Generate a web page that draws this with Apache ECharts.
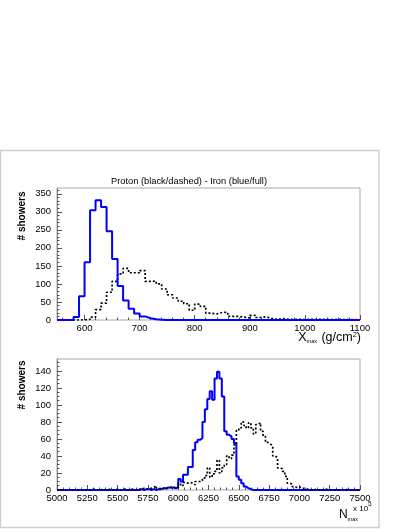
<!DOCTYPE html>
<html><head><meta charset="utf-8">
<script src="https://cdn.jsdelivr.net/npm/echarts@6/dist/echarts.min.js"></script>
<style>html,body{margin:0;padding:0;background:#fff;}#c{width:409px;height:529px;}</style>
</head><body><div id="c"></div>
<script>
// ---------- data ----------
const chartTitle = 'Proton (black/dashed) - Iron (blue/full)';
// Xmax histogram: bins of 10 g/cm2 starting at 550
const xmaxStart = 550, xmaxBinWidth = 10;
const xmaxIron = [0,0,0,8,66,160,304,332,313,246,169,94,54,31,18,10,5,2,1,
  0,0,0,0,0,0,0,0,0,0,0,0,0,0,0,0,0,0,0,0,0,0,0,0,0,0,0,0,0,0,0,0,0,0,0,0];
const xmaxProton = [0,0,0,0,0,2,8,29,47,77,107,128,143,131,131,137,107,108,100,86,
  70,61,52,45,27,44,38,19,17,21,21,10,10,8,6,13,7,9,4,2,3,2,1,2,1,2,1,2,1,1,2,1,1,1,0];
const xmaxTickLabels = [600,700,800,900,1000,1100];
const xmaxCountTicks = [0,50,100,150,200,250,300,350];

// Nmax histogram: bins of 20 (x10^5) starting at 5000
const nmaxStart = 5000, nmaxBinWidth = 20;
const nmaxIron = [0,0,0,0,0,0,0,0,0,0,0,0,0,0,0,0,0,0,0,0,0,0,0,0,0,0,0,0,0,0,0,0,0,0,
  1,0,1,1,0,1,0,1,1,2,2,3,3,3,2,3,
  13,10,18,18,27,27,47,56,59,61,80,95,107,116,106,131,139,131,110,69,65,63,60,55,16,12,8,4,2,1,
  0,0,0,0,0,0,0,0,0,0,0,0,0,0,0,0,0,0,0,0,0,0,0,0,0,0,0,0,0,0,0,0,0,0,0,0,0,0,0,0,0,0,0,0,0];
const nmaxProton = [0,0,0,0,0,0,0,0,0,0,0,0,0,0,
  1,0,0,0,1,0,0,1,0,0,1,0,0,1,0,0,1,0,0,1,
  0,2,1,2,2,3,5,2,1,2,1,3,3,2,4,3,
  8,5,9,8,9,8,6,10,10,11,14,17,26,15,19,22,35,20,26,30,
  40,37,41,53,70,73,80,76,73,79,73,66,77,79,69,63,56,54,52,40,38,26,25,22,16,8,7,4,3,4,2,2,1,1,0,0,1,0,0,0,1,
  0,0,0,0,0,0,0,0,1,0,0,0,0,0];
const nmaxTickLabels = [5000,5250,5500,5750,6000,6250,6500,6750,7000,7250,7500];
const nmaxCountTicks = [0,20,40,60,80,100,120,140];

// ---------- helpers ----------
function histPoints(start, width, counts) {
  const pts = counts.map((c, i) => [start + i * width, c]);
  pts.push([start + counts.length * width, counts[counts.length - 1]]);
  return pts;
}
function minorBetween(major, n) {
  const out = [];
  for (let i = 0; i < major.length - 1; i++) {
    const a = major[i], b = major[i + 1];
    for (let k = 1; k < n; k++) out.push(a + (b - a) * k / n);
  }
  return out;
}
function minorExtend(major, n, lo, hi) {
  const step = (major[1] - major[0]) / n;
  const out = [];
  for (let v = major[0] - step; v > lo; v -= step) out.push(v);
  for (let v = major[major.length - 1] + step; v < hi; v += step) out.push(v);
  return out.concat(minorBetween(major, n));
}

const FONT = 'Liberation Sans, Arial, Helvetica, sans-serif';
const tickColor = '#555';
const frameColor = '#a8a8a8';
const plain = v => String(v);

const topXMin = 550, topXMax = 1100, topYMax = 366;
const botXMin = 5000, botXMax = 7500, botYMax = 154;

function xAxes(grid, min, max, labels, minor) {
  return [
    { gridIndex: grid, type: 'value', position: 'bottom', min, max,
      axisLine: { show: false }, splitLine: { show: false },
      axisTick: { show: true, inside: true, length: 5, customValues: labels, lineStyle: { color: tickColor, width: 1 } },
      axisLabel: { customValues: labels, formatter: plain, margin: 3, fontSize: 9.5, color: '#000', fontFamily: FONT } },
    { gridIndex: grid, type: 'value', position: 'bottom', min, max,
      axisLine: { show: false }, splitLine: { show: false },
      axisTick: { show: true, inside: true, length: 2.5, customValues: minor, lineStyle: { color: tickColor, width: 1 } },
      axisLabel: { show: false } }
  ];
}
function yAxes(grid, max, labels, minor) {
  return [
    { gridIndex: grid, type: 'value', position: 'left', min: 0, max,
      axisLine: { show: true, lineStyle: { color: '#888', width: 1 } }, splitLine: { show: false },
      axisTick: { show: true, inside: true, length: 5, customValues: labels, lineStyle: { color: tickColor, width: 1 } },
      axisLabel: { customValues: labels, formatter: plain, margin: 6, fontSize: 9.5, color: '#000', fontFamily: FONT } },
    { gridIndex: grid, type: 'value', position: 'left', min: 0, max,
      axisLine: { show: false }, splitLine: { show: false },
      axisTick: { show: true, inside: true, length: 2.5, customValues: minor, lineStyle: { color: tickColor, width: 1 } },
      axisLabel: { show: false } }
  ];
}

const topXMinor = minorExtend(xmaxTickLabels, 5, topXMin, topXMax);
const topYMinor = minorExtend(xmaxCountTicks, 5, 0, topYMax);
const botXMinor = minorBetween(nmaxTickLabels, 5);
const botYMinor = minorExtend(nmaxCountTicks, 4, 0, botYMax);

function histSeries(name, xi, yi, pts, color, width, dash, z) {
  return { name, type: 'line', xAxisIndex: xi, yAxisIndex: yi, data: pts, step: 'end',
    showSymbol: false, symbol: 'none', z, clip: true,
    lineStyle: { color, width, type: dash, cap: 'butt' } };
}

const chart = echarts.init(document.getElementById('c'), null, { renderer: 'canvas' });
chart.setOption({
  animation: false,
  backgroundColor: '#fff',
  grid: [
    { left: 57, top: 188, width: 303, height: 132, show: true, borderColor: frameColor, borderWidth: 1, containLabel: false },
    { left: 57, top: 359, width: 303, height: 131, show: true, borderColor: frameColor, borderWidth: 1, containLabel: false }
  ],
  xAxis: [].concat(
    xAxes(0, topXMin, topXMax, xmaxTickLabels, topXMinor),
    xAxes(1, botXMin, botXMax, nmaxTickLabels, botXMinor)
  ),
  yAxis: [].concat(
    yAxes(0, topYMax, xmaxCountTicks, topYMinor),
    yAxes(1, botYMax, nmaxCountTicks, botYMinor)
  ),
  series: [
    histSeries('Proton Xmax', 0, 0, histPoints(xmaxStart, xmaxBinWidth, xmaxProton), '#000', 1.7, [2, 2], 3),
    histSeries('Iron Xmax', 0, 0, histPoints(xmaxStart, xmaxBinWidth, xmaxIron), '#0000ff', 2, 'solid', 4),
    histSeries('Proton Nmax', 2, 2, histPoints(nmaxStart, nmaxBinWidth, nmaxProton), '#000', 1.7, [2, 2], 4),
    histSeries('Iron Nmax', 2, 2, histPoints(nmaxStart, nmaxBinWidth, nmaxIron), '#0000ff', 2, 'solid', 3)
  ],
  graphic: [
    { type: 'rect', shape: { x: 0.5, y: 150.5, width: 378.5, height: 377 }, silent: true,
      style: { fill: 'none', stroke: '#cfcfcf', lineWidth: 1.5 } },
    { type: 'text', x: 189, y: 181.5, silent: true,
      style: { text: chartTitle, fontSize: 9.3, fontFamily: FONT, fill: '#000', align: 'center', verticalAlign: 'middle' } },
    { type: 'text', x: 22, y: 216, rotation: Math.PI / 2, silent: true,
      style: { text: '# showers', fontSize: 10, fontWeight: 'bold', fontFamily: FONT, fill: '#000', align: 'center', verticalAlign: 'middle' } },
    { type: 'text', x: 22, y: 385, rotation: Math.PI / 2, silent: true,
      style: { text: '# showers', fontSize: 10, fontWeight: 'bold', fontFamily: FONT, fill: '#000', align: 'center', verticalAlign: 'middle' } },
    { type: 'text', x: 361, y: 338, silent: true,
      style: { text: '{b|X}{s|max}{b| (g/cm}{p|2}{b|)}', align: 'right', verticalAlign: 'middle', fill: '#000',
        rich: {
          b: { fontSize: 12.5, fontFamily: FONT, lineHeight: 15, verticalAlign: 'middle' },
          s: { fontSize: 5.5, fontFamily: FONT, lineHeight: 15, verticalAlign: 'bottom', padding: [0, 1, 1, 0] },
          p: { fontSize: 7.5, fontFamily: FONT, lineHeight: 15, verticalAlign: 'top' }
        } } },
    { type: 'text', x: 358, y: 515, silent: true,
      style: { text: '{b|N}{s|max}', align: 'right', verticalAlign: 'middle', fill: '#000',
        rich: {
          b: { fontSize: 12, fontFamily: FONT, lineHeight: 14, verticalAlign: 'middle' },
          s: { fontSize: 5.5, fontFamily: FONT, lineHeight: 14, verticalAlign: 'bottom' }
        } } },
    { type: 'text', x: 353, y: 507, silent: true,
      style: { text: '{a|x 10}{p|5}', align: 'left', verticalAlign: 'middle', fill: '#000',
        rich: {
          a: { fontSize: 8, fontFamily: FONT, lineHeight: 12, verticalAlign: 'bottom' },
          p: { fontSize: 6.5, fontFamily: FONT, lineHeight: 12, verticalAlign: 'top' }
        } } }
  ]
});
</script></body></html>
